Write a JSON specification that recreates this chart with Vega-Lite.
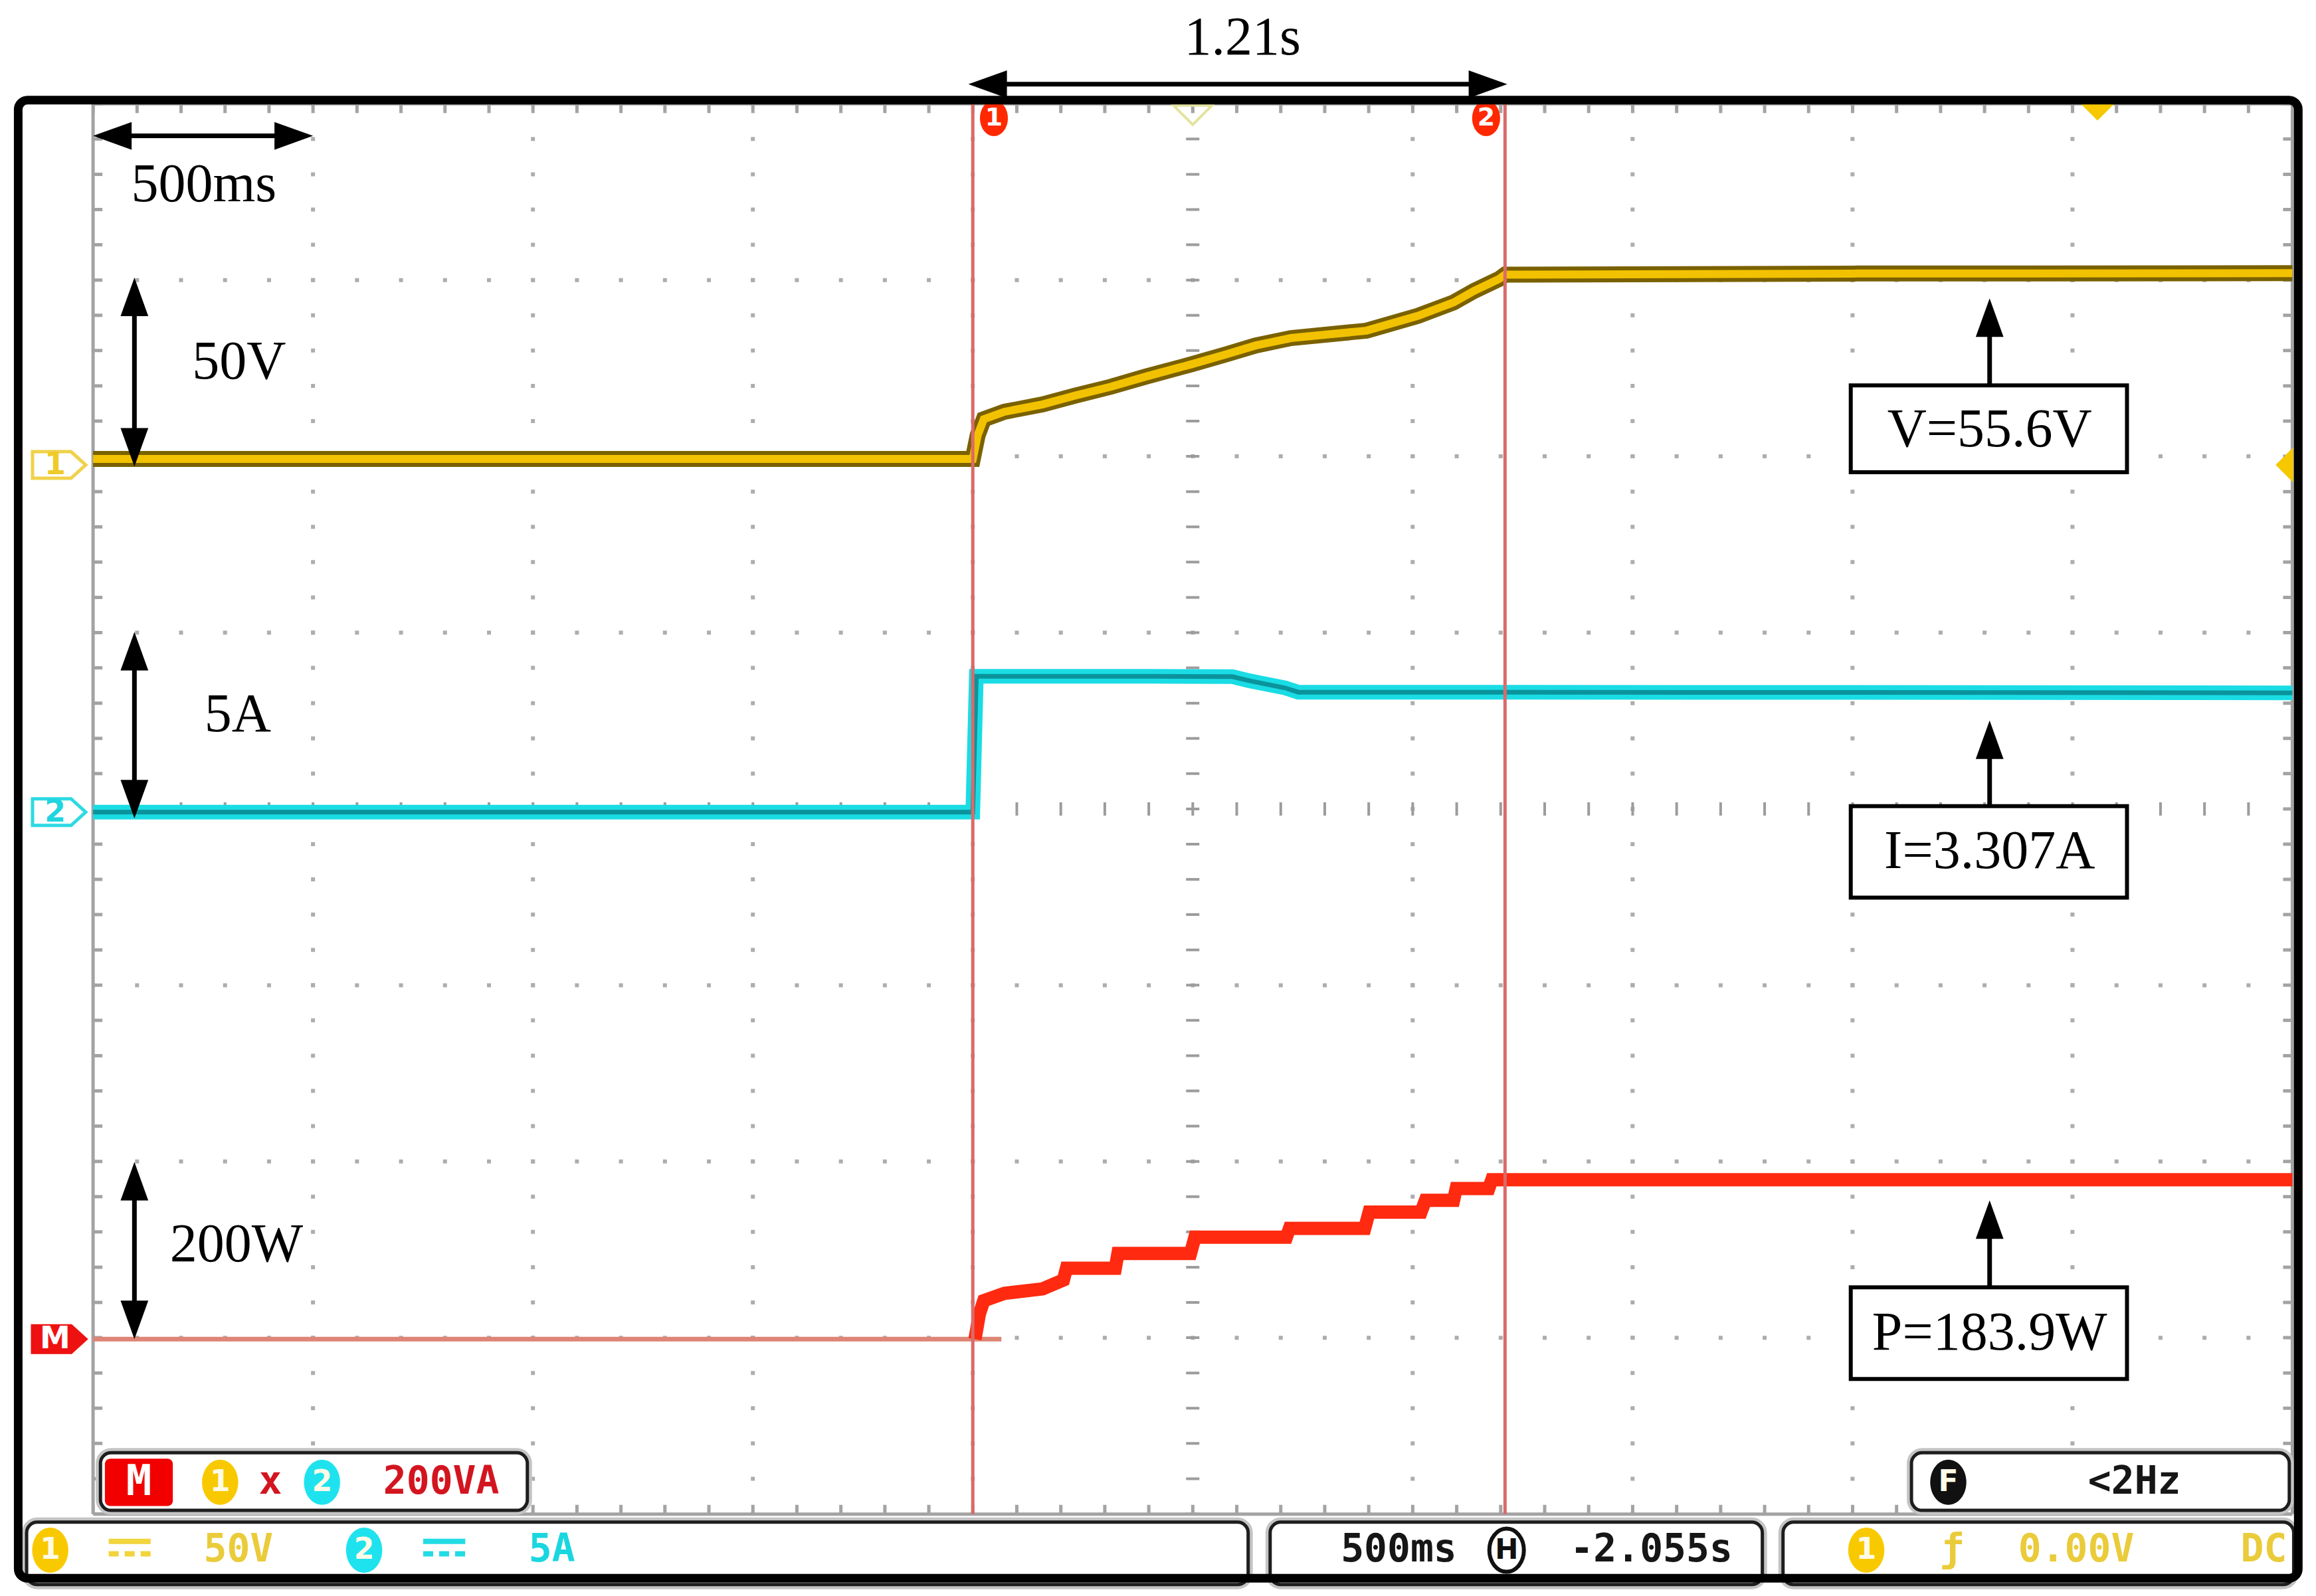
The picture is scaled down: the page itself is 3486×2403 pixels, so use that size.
{
"$schema":"https://vega.github.io/schema/vega-lite/v6.json",
"width":3486,"height":2403,
"autosize":"none",
"padding":0,
"background":"white",
"config":{"view":{"stroke":null},"axis":{"disable":true}},
"resolve":{"scale":{"y":"independent","color":"independent","fill":"independent","stroke":"independent","shape":"independent"}},
"datasets":{
"ch1":[{"t":0,"v":1.7},{"t":2.0,"v":1.7},{"t":2.011,"v":8.4},{"t":2.025,"v":13.0},{"t":2.072,"v":15.1},{"t":2.159,"v":17.2},{"t":2.233,"v":19.7},{"t":2.314,"v":22.2},{"t":2.394,"v":25.1},{"t":2.495,"v":28.5},{"t":2.576,"v":31.4},{"t":2.643,"v":33.9},{"t":2.723,"v":36.0},{"t":2.895,"v":38.1},{"t":3.012,"v":42.3},{"t":3.093,"v":46.1},{"t":3.14,"v":49.4},{"t":3.197,"v":52.8},{"t":3.21,"v":54.0},{"t":4.0,"v":54.3},{"t":5.0,"v":54.4}],
"ch2":[{"t":0,"i":0},{"t":2.0,"i":0},{"t":2.008,"i":3.85},{"t":2.4,"i":3.85},{"t":2.59,"i":3.84},{"t":2.63,"i":3.72},{"t":2.71,"i":3.52},{"t":2.74,"i":3.4},{"t":3.21,"i":3.4},{"t":5.0,"i":3.38}],
"math0":[{"t":0,"p":0},{"t":2.065,"p":0}],
"math":[{"t":2.005,"p":0},{"t":2.015,"p":28.5},{"t":2.025,"p":43.6},{"t":2.072,"p":51.9},{"t":2.159,"p":57.0},{"t":2.206,"p":67.0},{"t":2.213,"p":80.4},{"t":2.324,"p":80.4},{"t":2.33,"p":97.2},{"t":2.495,"p":97.2},{"t":2.505,"p":115.6},{"t":2.713,"p":115.6},{"t":2.72,"p":125.6},{"t":2.891,"p":125.6},{"t":2.901,"p":144.1},{"t":3.019,"p":144.1},{"t":3.029,"p":157.5},{"t":3.093,"p":157.5},{"t":3.099,"p":170.9},{"t":3.173,"p":170.9},{"t":3.18,"p":180.9},{"t":5.0,"p":180.9}],
"shafts":[{"t":0.094,"t2":0.094,"y":6.901,"y2":6.055},{"t":0.094,"t2":0.094,"y":4.891,"y2":4.059},{"t":0.094,"t2":0.094,"y":1.884,"y2":1.106},{"t":4.3117,"t2":4.3117,"y":6.783,"y2":6.403},{"t":4.3117,"t2":4.3117,"y":4.389,"y2":4.016},{"t":4.3117,"t2":4.3117,"y":1.667,"y2":1.286},{"t":0.045,"t2":0.455,"y":7.818,"y2":7.818},{"t":2.035,"t2":3.17,"y":8.111,"y2":8.111}],
"heads":[{"t":0.094,"y":7.014,"dir":"up"},{"t":0.094,"y":5.942,"dir":"down"},{"t":0.094,"y":5.004,"dir":"up"},{"t":0.094,"y":3.946,"dir":"down"},{"t":0.094,"y":1.997,"dir":"up"},{"t":0.094,"y":0.9925,"dir":"down"},{"t":4.3117,"y":6.896,"dir":"up"},{"t":4.3117,"y":4.502,"dir":"up"},{"t":4.3117,"y":1.78,"dir":"up"},{"t":0,"y":7.818,"dir":"left"},{"t":0.5,"y":7.818,"dir":"right"},{"t":1.99,"y":8.111,"dir":"left"},{"t":3.215,"y":8.111,"dir":"right"}],
"boxes":[{"t":3.996,"t2":4.624,"y":6.403,"y2":5.91},{"t":3.996,"t2":4.624,"y":4.016,"y2":3.497},{"t":3.996,"t2":4.624,"y":1.286,"y2":0.766}],
"serif":[{"t":0.252,"y":7.542,"label":"500ms"},{"t":2.613,"y":8.375,"label":"1.21s"},{"t":0.332,"y":6.535,"label":"50V"},{"t":0.329,"y":4.535,"label":"5A"},{"t":0.326,"y":1.529,"label":"200W"},{"t":4.3117,"y":6.152,"label":"V=55.6V"},{"t":4.3117,"y":3.757,"label":"I=3.307A"},{"t":4.3117,"y":1.026,"label":"P=183.9W"}],
"panels":[{"t":0.0168,"t2":0.9873,"y":0.3476,"y2":0.0209},{"t":4.134,"t2":4.993,"y":0.3476,"y2":0.0209},{"t":-0.1511,"t2":2.626,"y":-0.046,"y2":-0.4},{"t":2.676,"t2":3.795,"y":-0.046,"y2":-0.4},{"t":3.842,"t2":5.003,"y":-0.046,"y2":-0.4}],
"badges":[{"t":-0.0974,"y":-0.205,"label":"1","tone":"yellow"},{"t":0.6162,"y":-0.205,"label":"2","tone":"cyan"},{"t":0.2888,"y":0.18,"label":"1","tone":"yellow"},{"t":0.5205,"y":0.18,"label":"2","tone":"cyan"},{"t":4.0313,"y":-0.205,"label":"1","tone":"yellow"},{"t":4.2177,"y":0.18,"label":"F","tone":"black"}],
"scopeText":[{"t":0.7915,"y":0.18,"label":"200VA","tone":"red"},{"t":0.403,"y":0.18,"label":"x","tone":"red"},{"t":4.6408,"y":0.18,"label":"<2Hz","tone":"black"},{"t":0.3304,"y":-0.205,"label":"50V","tone":"yellow"},{"t":1.043,"y":-0.205,"label":"5A","tone":"cyan"},{"t":2.9685,"y":-0.205,"label":"500ms","tone":"black"},{"t":3.5427,"y":-0.205,"label":"-2.055s","tone":"black"},{"t":4.2264,"y":-0.205,"label":"ƒ","tone":"yellow"},{"t":4.5085,"y":-0.205,"label":"0.00V","tone":"yellow"},{"t":4.935,"y":-0.205,"label":"DC","tone":"yellow"}],
"dcbars":[{"t":0.0356,"t2":0.131,"tone":"yellow"},{"t":0.7505,"t2":0.8462,"tone":"cyan"}],
"tags":[{"t":-0.0772,"y":5.951,"label":"1"},{"t":-0.0772,"y":3.982,"label":"2"},{"t":-0.0772,"y":0.9925,"label":"M"}]
},
"layer":[
{"data":{"values":[{"y":1},{"y":2},{"y":3},{"y":5},{"y":6},{"y":7}]},"mark":{"type":"rule","color":"#ADADAD","strokeWidth":6,"strokeDash":[6,60.21],"strokeDashOffset":3},"encoding":{"x":{"datum":0,"type":"quantitative","scale":{"domain":[-0.2116,5.0537],"nice":false,"zero":false},"axis":null},"x2":{"datum":5},"y":{"field":"y","type":"quantitative","scale":{"domain":[-0.4648,8.5888],"nice":false,"zero":false},"axis":null}}},
{"data":{"values":[{"t":0.5},{"t":1},{"t":1.5},{"t":2},{"t":3},{"t":3.5},{"t":4},{"t":4.5}]},"mark":{"type":"rule","color":"#ADADAD","strokeWidth":6,"strokeDash":[6,47.08],"strokeDashOffset":3},"encoding":{"x":{"field":"t","type":"quantitative","scale":{"domain":[-0.2116,5.0537],"nice":false,"zero":false},"axis":null},"y":{"datum":8,"type":"quantitative","scale":{"domain":[-0.4648,8.5888],"nice":false,"zero":false},"axis":null},"y2":{"datum":0}}},
{"data":{"values":[{"y":4}]},"mark":{"type":"rule","color":"#9C9C9C","strokeWidth":20,"strokeDash":[4,62.21],"strokeDashOffset":2},"encoding":{"x":{"datum":0,"type":"quantitative","scale":{"domain":[-0.2116,5.0537],"nice":false,"zero":false},"axis":null},"x2":{"datum":5},"y":{"field":"y","type":"quantitative","scale":{"domain":[-0.4648,8.5888],"nice":false,"zero":false},"axis":null}}},
{"data":{"values":[{"t":2.5}]},"mark":{"type":"rule","color":"#9C9C9C","strokeWidth":20,"strokeDash":[4,49.08],"strokeDashOffset":2},"encoding":{"x":{"field":"t","type":"quantitative","scale":{"domain":[-0.2116,5.0537],"nice":false,"zero":false},"axis":null},"y":{"datum":8,"type":"quantitative","scale":{"domain":[-0.4648,8.5888],"nice":false,"zero":false},"axis":null},"y2":{"datum":0}}},
{"data":{"values":[{"t":0,"t2":0,"y":0,"y2":8},{"t":5,"t2":5,"y":0,"y2":8},{"t":0,"t2":5,"y":0,"y2":0},{"t":0,"t2":5,"y":8,"y2":8}]},"mark":{"type":"rule","color":"#A3A3A3","strokeWidth":5},"encoding":{"x":{"field":"t","type":"quantitative","scale":{"domain":[-0.2116,5.0537],"nice":false,"zero":false},"axis":null},"x2":{"field":"t2"},"y":{"field":"y","type":"quantitative","scale":{"domain":[-0.4648,8.5888],"nice":false,"zero":false},"axis":null},"y2":{"field":"y2"}}},
{"data":{"values":[{"t":0.0106},{"t":4.9894}]},"mark":{"type":"rule","color":"#A3A3A3","strokeWidth":14,"strokeDash":[5,48.08],"strokeDashOffset":2.5},"encoding":{"x":{"field":"t","type":"quantitative","scale":{"domain":[-0.2116,5.0537],"nice":false,"zero":false},"axis":null},"y":{"datum":8,"type":"quantitative","scale":{"domain":[-0.4648,8.5888],"nice":false,"zero":false},"axis":null},"y2":{"datum":0}}},
{"data":{"values":[{"y":0.0264},{"y":7.9736}]},"mark":{"type":"rule","color":"#A3A3A3","strokeWidth":14,"strokeDash":[5,61.21],"strokeDashOffset":2.5},"encoding":{"x":{"datum":0,"type":"quantitative","scale":{"domain":[-0.2116,5.0537],"nice":false,"zero":false},"axis":null},"x2":{"datum":5},"y":{"field":"y","type":"quantitative","scale":{"domain":[-0.4648,8.5888],"nice":false,"zero":false},"axis":null}}},
{"data":{"name":"math0"},"mark":{"type":"line","color":"#DE8576","strokeWidth":7},"encoding":{"x":{"field":"t","type":"quantitative","scale":{"domain":[-0.2116,5.0537],"nice":false,"zero":false},"axis":null},"y":{"field":"p","type":"quantitative","scale":{"domain":[-291.46,1519.26],"nice":false,"zero":false},"axis":null}}},
{"data":{"name":"ch1"},"mark":{"type":"line","color":"#7A6100","strokeWidth":24},"encoding":{"x":{"field":"t","type":"quantitative","scale":{"domain":[-0.2116,5.0537],"nice":false,"zero":false},"axis":null},"y":{"field":"v","type":"quantitative","scale":{"domain":[-320.79,131.89],"nice":false,"zero":false},"axis":null}}},
{"data":{"name":"ch1"},"mark":{"type":"line","color":"#F2C200","strokeWidth":12},"encoding":{"x":{"field":"t","type":"quantitative","scale":{"domain":[-0.2116,5.0537],"nice":false,"zero":false},"axis":null},"y":{"field":"v","type":"quantitative","scale":{"domain":[-320.79,131.89],"nice":false,"zero":false},"axis":null}}},
{"data":{"name":"ch2"},"mark":{"type":"line","color":"#1ADCE4","strokeWidth":22},"encoding":{"x":{"field":"t","type":"quantitative","scale":{"domain":[-0.2116,5.0537],"nice":false,"zero":false},"axis":null},"y":{"field":"i","type":"quantitative","scale":{"domain":[-22.236,23.032],"nice":false,"zero":false},"axis":null}}},
{"data":{"name":"ch2"},"mark":{"type":"line","color":"#0B939B","strokeWidth":7},"encoding":{"x":{"field":"t","type":"quantitative","scale":{"domain":[-0.2116,5.0537],"nice":false,"zero":false},"axis":null},"y":{"field":"i","type":"quantitative","scale":{"domain":[-22.236,23.032],"nice":false,"zero":false},"axis":null}}},
{"data":{"name":"math"},"mark":{"type":"line","color":"#FF2A10","strokeWidth":20},"encoding":{"x":{"field":"t","type":"quantitative","scale":{"domain":[-0.2116,5.0537],"nice":false,"zero":false},"axis":null},"y":{"field":"p","type":"quantitative","scale":{"domain":[-291.46,1519.26],"nice":false,"zero":false},"axis":null}}},
{"data":{"values":[{"t":2.0},{"t":3.21}]},"mark":{"type":"rule","color":"#DB6A6A","strokeWidth":5},"encoding":{"x":{"field":"t","type":"quantitative","scale":{"domain":[-0.2116,5.0537],"nice":false,"zero":false},"axis":null},"y":{"datum":8,"type":"quantitative","scale":{"domain":[-0.4648,8.5888],"nice":false,"zero":false},"axis":null},"y2":{"datum":0}}},
{"data":{"values":[{"t":2.048,"y":7.918,"label":"1"},{"t":3.167,"y":7.918,"label":"2"}]},"layer":[
 {"mark":{"type":"point","shape":"M-0.78,0A0.78,1 0 1,1 0.78,0A0.78,1 0 1,1 -0.78,0Z","size":2900,"filled":true,"color":"#FF2800","opacity":1}},
 {"mark":{"type":"text","font":"DejaVu Sans","fontWeight":"bold","fontSize":38,"color":"white","align":"center","baseline":"middle"},"encoding":{"text":{"field":"label"}}}
],"encoding":{"x":{"field":"t","type":"quantitative","scale":{"domain":[-0.2116,5.0537],"nice":false,"zero":false},"axis":null},"y":{"field":"y","type":"quantitative","scale":{"domain":[-0.4648,8.5888],"nice":false,"zero":false},"axis":null}}},
{"data":{"values":[{"t":2.5,"y":7.936}]},"mark":{"type":"point","shape":"M-1,-0.5L1,-0.5L0,0.5Z","size":3364,"filled":false,"color":"#E3E3A0","strokeWidth":4,"opacity":1},"encoding":{"x":{"field":"t","type":"quantitative","scale":{"domain":[-0.2116,5.0537],"nice":false,"zero":false},"axis":null},"y":{"field":"y","type":"quantitative","scale":{"domain":[-0.4648,8.5888],"nice":false,"zero":false},"axis":null}}},
{"data":{"values":[{"t":4.557,"y":7.96}]},"mark":{"type":"point","shape":"M-1,-0.5L1,-0.5L0,0.5Z","size":3364,"filled":true,"color":"#F5C800","opacity":1},"encoding":{"x":{"field":"t","type":"quantitative","scale":{"domain":[-0.2116,5.0537],"nice":false,"zero":false},"axis":null},"y":{"field":"y","type":"quantitative","scale":{"domain":[-0.4648,8.5888],"nice":false,"zero":false},"axis":null}}},
{"data":{"values":[{"t":4.982,"y":5.951}]},"mark":{"type":"point","shape":"M-0.5,0L0.5,-1L0.5,1Z","size":2809,"filled":true,"color":"#F5C800","opacity":1},"encoding":{"x":{"field":"t","type":"quantitative","scale":{"domain":[-0.2116,5.0537],"nice":false,"zero":false},"axis":null},"y":{"field":"y","type":"quantitative","scale":{"domain":[-0.4648,8.5888],"nice":false,"zero":false},"axis":null}}},
{"data":{"name":"tags"},"layer":[
 {"mark":{"type":"point","shape":"M-1,-0.5L0.45,-0.5L1,0L0.45,0.5L-1,0.5Z","size":6400,"filled":true,"opacity":1,"strokeWidth":5},"encoding":{"fill":{"field":"label","type":"nominal","scale":{"domain":["1","2","M"],"range":["#FFFFFF","#FFFFFF","#EE1111"]},"legend":null},"stroke":{"field":"label","type":"nominal","scale":{"domain":["1","2","M"],"range":["#F0D24A","#2ED9E3","#EE1111"]},"legend":null}}},
 {"mark":{"type":"text","font":"DejaVu Sans","fontWeight":"bold","fontSize":46,"align":"center","baseline":"middle","dx":-6},"encoding":{"text":{"field":"label"},"color":{"field":"label","type":"nominal","scale":{"domain":["1","2","M"],"range":["#EFCB2A","#1FD5DF","#FFFFFF"]},"legend":null}}}
],"encoding":{"x":{"field":"t","type":"quantitative","scale":{"domain":[-0.2116,5.0537],"nice":false,"zero":false},"axis":null},"y":{"field":"y","type":"quantitative","scale":{"domain":[-0.4648,8.5888],"nice":false,"zero":false},"axis":null}}},
{"data":{"name":"shafts"},"mark":{"type":"rule","color":"black","strokeWidth":7},"encoding":{"x":{"field":"t","type":"quantitative","scale":{"domain":[-0.2116,5.0537],"nice":false,"zero":false},"axis":null},"x2":{"field":"t2"},"y":{"field":"y","type":"quantitative","scale":{"domain":[-0.4648,8.5888],"nice":false,"zero":false},"axis":null},"y2":{"field":"y2"}}},
{"data":{"name":"heads"},"mark":{"type":"point","size":3364,"filled":true,"color":"black","opacity":1},"encoding":{"x":{"field":"t","type":"quantitative","scale":{"domain":[-0.2116,5.0537],"nice":false,"zero":false},"axis":null},"y":{"field":"y","type":"quantitative","scale":{"domain":[-0.4648,8.5888],"nice":false,"zero":false},"axis":null},"shape":{"field":"dir","type":"nominal","scale":{"domain":["up","down","left","right"],"range":["M0,0L0.72,2L-0.72,2Z","M0,0L0.72,-2L-0.72,-2Z","M0,0L2,0.72L2,-0.72Z","M0,0L-2,0.72L-2,-0.72Z"]},"legend":null}}},
{"data":{"name":"boxes"},"mark":{"type":"rect","fill":"white","stroke":"black","strokeWidth":6},"encoding":{"x":{"field":"t","type":"quantitative","scale":{"domain":[-0.2116,5.0537],"nice":false,"zero":false},"axis":null},"x2":{"field":"t2"},"y":{"field":"y","type":"quantitative","scale":{"domain":[-0.4648,8.5888],"nice":false,"zero":false},"axis":null},"y2":{"field":"y2"}}},
{"data":{"name":"serif"},"mark":{"type":"text","font":"Liberation Serif","fontSize":82,"color":"black","align":"center","baseline":"middle"},"encoding":{"x":{"field":"t","type":"quantitative","scale":{"domain":[-0.2116,5.0537],"nice":false,"zero":false},"axis":null},"y":{"field":"y","type":"quantitative","scale":{"domain":[-0.4648,8.5888],"nice":false,"zero":false},"axis":null},"text":{"field":"label"}}},
{"data":{"name":"panels"},"mark":{"type":"rect","fill":"white","stroke":"#C4C4C4","strokeWidth":14,"cornerRadius":16},"encoding":{"x":{"field":"t","type":"quantitative","scale":{"domain":[-0.2116,5.0537],"nice":false,"zero":false},"axis":null},"x2":{"field":"t2"},"y":{"field":"y","type":"quantitative","scale":{"domain":[-0.4648,8.5888],"nice":false,"zero":false},"axis":null},"y2":{"field":"y2"}}},
{"data":{"name":"panels"},"mark":{"type":"rect","fill":"white","stroke":"#1E1E1E","strokeWidth":5,"cornerRadius":16},"encoding":{"x":{"field":"t","type":"quantitative","scale":{"domain":[-0.2116,5.0537],"nice":false,"zero":false},"axis":null},"x2":{"field":"t2"},"y":{"field":"y","type":"quantitative","scale":{"domain":[-0.4648,8.5888],"nice":false,"zero":false},"axis":null},"y2":{"field":"y2"}}},
{"data":{"values":[{"t":0.0269,"t2":0.1813,"y":0.314,"y2":0.046}]},"mark":{"type":"rect","fill":"#F20000","cornerRadius":8},"encoding":{"x":{"field":"t","type":"quantitative","scale":{"domain":[-0.2116,5.0537],"nice":false,"zero":false},"axis":null},"x2":{"field":"t2"},"y":{"field":"y","type":"quantitative","scale":{"domain":[-0.4648,8.5888],"nice":false,"zero":false},"axis":null},"y2":{"field":"y2"}}},
{"data":{"values":[{"t":0.104,"y":0.18,"label":"M"}]},"mark":{"type":"text","font":"DejaVu Sans Mono","fontWeight":"bold","fontSize":64,"color":"white","align":"center","baseline":"middle"},"encoding":{"x":{"field":"t","type":"quantitative","scale":{"domain":[-0.2116,5.0537],"nice":false,"zero":false},"axis":null},"y":{"field":"y","type":"quantitative","scale":{"domain":[-0.4648,8.5888],"nice":false,"zero":false},"axis":null},"text":{"field":"label"}}},
{"data":{"name":"dcbars"},"mark":{"type":"rule","strokeWidth":8},"encoding":{"x":{"field":"t","type":"quantitative","scale":{"domain":[-0.2116,5.0537],"nice":false,"zero":false},"axis":null},"x2":{"field":"t2"},"y":{"datum":-0.155,"type":"quantitative","scale":{"domain":[-0.4648,8.5888],"nice":false,"zero":false},"axis":null},"color":{"field":"tone","type":"nominal","scale":{"domain":["yellow","cyan"],"range":["#F2D43C","#22DCE5"]},"legend":null}}},
{"data":{"name":"dcbars"},"mark":{"type":"rule","strokeWidth":8,"strokeDash":[15,9]},"encoding":{"x":{"field":"t","type":"quantitative","scale":{"domain":[-0.2116,5.0537],"nice":false,"zero":false},"axis":null},"x2":{"field":"t2"},"y":{"datum":-0.226,"type":"quantitative","scale":{"domain":[-0.4648,8.5888],"nice":false,"zero":false},"axis":null},"color":{"field":"tone","type":"nominal","scale":{"domain":["yellow","cyan"],"range":["#F2D43C","#22DCE5"]},"legend":null}}},
{"data":{"name":"badges"},"layer":[
 {"mark":{"type":"point","shape":"M-0.8,0A0.8,1 0 1,1 0.8,0A0.8,1 0 1,1 -0.8,0Z","size":4624,"filled":true,"opacity":1},"encoding":{"color":{"field":"tone","type":"nominal","scale":{"domain":["yellow","cyan","black"],"range":["#F9C900","#1EE3EE","#111111"]},"legend":null}}},
 {"mark":{"type":"text","font":"DejaVu Sans","fontWeight":"bold","fontSize":44,"color":"#FFFBE6","align":"center","baseline":"middle"},"encoding":{"text":{"field":"label"}}}
],"encoding":{"x":{"field":"t","type":"quantitative","scale":{"domain":[-0.2116,5.0537],"nice":false,"zero":false},"axis":null},"y":{"field":"y","type":"quantitative","scale":{"domain":[-0.4648,8.5888],"nice":false,"zero":false},"axis":null}}},
{"data":{"values":[{"t":3.2136,"y":-0.205,"label":"H"}]},"layer":[
 {"mark":{"type":"point","shape":"M-0.8,0A0.8,1 0 1,1 0.8,0A0.8,1 0 1,1 -0.8,0Z","size":4225,"filled":true,"fill":"white","stroke":"#111111","strokeWidth":6,"opacity":1}},
 {"mark":{"type":"text","font":"DejaVu Sans","fontWeight":"bold","fontSize":42,"color":"#111111","align":"center","baseline":"middle"},"encoding":{"text":{"field":"label"}}}
],"encoding":{"x":{"field":"t","type":"quantitative","scale":{"domain":[-0.2116,5.0537],"nice":false,"zero":false},"axis":null},"y":{"field":"y","type":"quantitative","scale":{"domain":[-0.4648,8.5888],"nice":false,"zero":false},"axis":null}}},
{"data":{"name":"scopeText"},"mark":{"type":"text","font":"DejaVu Sans Mono","fontWeight":"bold","fontSize":58,"align":"center","baseline":"middle"},"encoding":{"x":{"field":"t","type":"quantitative","scale":{"domain":[-0.2116,5.0537],"nice":false,"zero":false},"axis":null},"y":{"field":"y","type":"quantitative","scale":{"domain":[-0.4648,8.5888],"nice":false,"zero":false},"axis":null},"text":{"field":"label"},"color":{"field":"tone","type":"nominal","scale":{"domain":["yellow","cyan","red","black"],"range":["#EACB3A","#1AD6DF","#D31520","#161616"]},"legend":null}}},
{"data":{"values":[{"t":-0.1702,"t2":5.0134,"y":8.021,"y2":-0.364}]},"mark":{"type":"rect","fillOpacity":0,"stroke":"black","strokeWidth":13,"cornerRadius":14},"encoding":{"x":{"field":"t","type":"quantitative","scale":{"domain":[-0.2116,5.0537],"nice":false,"zero":false},"axis":null},"x2":{"field":"t2"},"y":{"field":"y","type":"quantitative","scale":{"domain":[-0.4648,8.5888],"nice":false,"zero":false},"axis":null},"y2":{"field":"y2"}}}
]
}
